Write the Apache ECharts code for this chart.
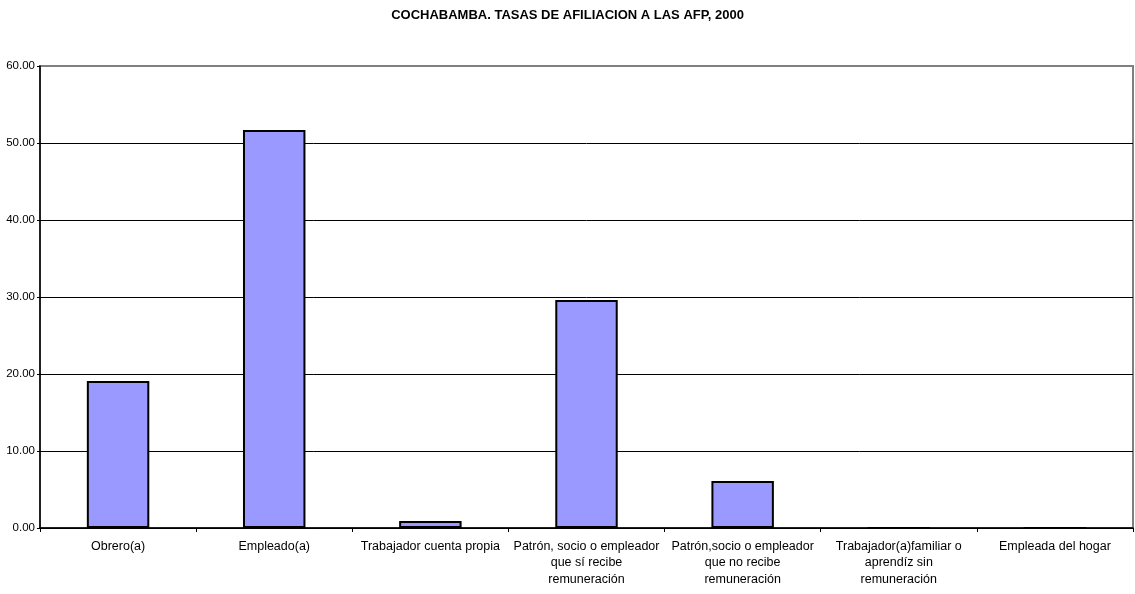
<!DOCTYPE html>
<html><head><meta charset="utf-8">
<script src="https://cdn.jsdelivr.net/npm/echarts@6/dist/echarts.min.js"></script>
<style>html,body{margin:0;padding:0;background:#fff}#c{width:1135px;height:594px}</style>
</head><body><div id="c"></div>
<script>
const title = 'COCHABAMBA. TASAS DE AFILIACION A LAS AFP, 2000';
const categories = [
  'Obrero(a)',
  'Empleado(a)',
  'Trabajador cuenta propia',
  'Patrón, socio o empleador\nque sí recibe\nremuneración',
  'Patrón,socio o empleador\nque no recibe\nremuneración',
  'Trabajador(a)familiar o\naprendíz sin\nremuneración',
  'Empleada del hogar'
];
const values = [19.1, 51.7, 0.9, 29.6, 6.1, 0, 0];

const chart = echarts.init(document.getElementById('c'));
chart.setOption({
  animation: false,
  backgroundColor: '#fff',
  title: {
    text: title, left: 'center', top: 4,
    textStyle: {fontFamily: 'Liberation Sans', fontSize: 13, fontWeight: 'bold', color: '#000'}
  },
  grid: {left: 40, right: 2, top: 66, bottom: 66, show: true, borderColor: '#808080', borderWidth: 2, backgroundColor: 'transparent'},
  xAxis: {
    type: 'category', data: categories,
    axisLine: {lineStyle: {color: '#000', width: 1.5}},
    axisTick: {show: true, alignWithLabel: false, length: 4, lineStyle: {color: '#000'}},
    axisLabel: {interval: 0, margin: 10, fontFamily: 'Liberation Sans', fontSize: 12.5, color: '#000', lineHeight: 16.5}
  },
  yAxis: {
    type: 'value', min: 0, max: 60, interval: 10,
    axisLine: {show: true, lineStyle: {color: '#000', width: 1.5}},
    axisTick: {show: true, length: 3, inside: false, lineStyle: {color: '#000'}},
    splitLine: {showMaxLine: false, lineStyle: {color: '#000', width: 1}},
    axisLabel: {margin: 5, fontFamily: 'Liberation Sans', fontSize: 11.5, color: '#000', formatter: v => v.toFixed(2)}
  },
  series: [{
    type: 'bar', data: values, barWidth: '40%',
    itemStyle: {color: '#9999FF', borderColor: '#000', borderWidth: 2}
  }]
});
</script></body></html>
